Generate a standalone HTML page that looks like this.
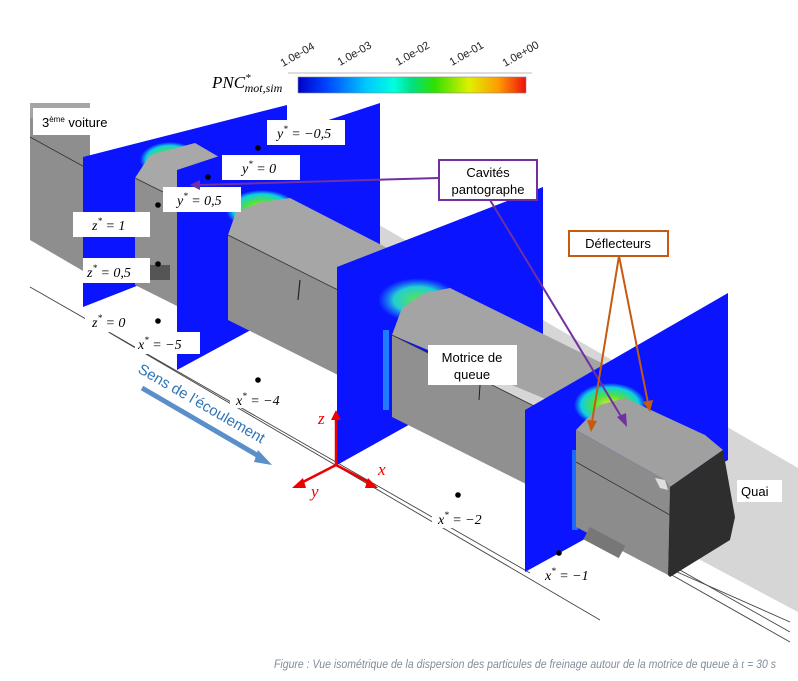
<!DOCTYPE html>
<html><head><meta charset="utf-8"><style>
html,body{margin:0;padding:0;background:#fff;}
svg{display:block;}
.lb{font-family:"Liberation Serif",serif;font-style:italic;font-size:14px;}
.sl{font-family:"Liberation Sans",sans-serif;font-size:13px;}
</style></head><body>
<svg width="798" height="681" viewBox="0 0 798 681" xmlns="http://www.w3.org/2000/svg">
<defs>
<linearGradient id="cb" x1="0" x2="1">
<stop offset="0" stop-color="#0000c8"/><stop offset="0.12" stop-color="#0040ff"/><stop offset="0.3" stop-color="#00c8ff"/><stop offset="0.42" stop-color="#00ffe0"/><stop offset="0.5" stop-color="#00e080"/><stop offset="0.6" stop-color="#30e000"/><stop offset="0.75" stop-color="#e0f000"/><stop offset="0.88" stop-color="#ff9a00"/><stop offset="1" stop-color="#ee1010"/>
</linearGradient>
<radialGradient id="pt"><stop offset="0" stop-color="#e8e830"/><stop offset="0.45" stop-color="#50e040"/><stop offset="0.8" stop-color="#10d0e0"/><stop offset="1" stop-color="#10d0e0" stop-opacity="0"/></radialGradient>
<radialGradient id="pt2"><stop offset="0" stop-color="#60e050"/><stop offset="0.6" stop-color="#20d0d0"/><stop offset="1" stop-color="#20a0ff" stop-opacity="0"/></radialGradient>
</defs>

<!-- colorbar -->
<rect x="298" y="77" width="228" height="16" fill="url(#cb)" stroke="#888" stroke-width="0.6"/>
<line x1="288" y1="73" x2="532" y2="73" stroke="#bbb" stroke-width="1"/>
<g font-family="Liberation Sans, sans-serif" font-size="11" fill="#222">
<text transform="translate(283,67) rotate(-30)">1.0e-04</text>
<text transform="translate(340,66) rotate(-30)">1.0e-03</text>
<text transform="translate(398,66) rotate(-30)">1.0e-02</text>
<text transform="translate(452,66) rotate(-30)">1.0e-01</text>
<text transform="translate(505,67) rotate(-30)">1.0e+00</text>
</g>
<text x="212" y="88" font-family="Liberation Serif, serif" font-style="italic" font-size="17">PNC<tspan font-size="11" dy="-7">*</tspan><tspan font-size="12" dy="11" dx="-6">mot,sim</tspan></text>

<!-- quai -->
<polygon points="250,150 798,468 798,612 250,320" fill="#d6d6d6"/>

<!-- ground lines -->
<g stroke="#444" stroke-width="0.9" fill="none">
<line x1="30" y1="287" x2="530" y2="573"/>
<line x1="110" y1="333" x2="600" y2="620"/>
<line x1="600" y1="525" x2="790" y2="632"/>
<line x1="610" y1="540" x2="790" y2="642"/>
<line x1="650" y1="560" x2="790" y2="622"/>
</g>

<!-- piece A -->
<polygon points="30,103 90,103 90,275 30,240" fill="#8e8e8e"/>
<polygon points="30,103 90,103 90,125 30,118" fill="#a5a5a5"/>
<line x1="30" y1="137" x2="90" y2="170" stroke="#333" stroke-width="0.8"/>

<!-- plane 1 -->
<polygon points="83,157 287,105 287,227 83,307" fill="#0a14ff"/>
<ellipse cx="170" cy="160" rx="30" ry="18" fill="url(#pt)"/>
<!-- piece B -->
<polygon points="135,178 150,155 195,143 250,175 177,199" fill="#a8a8a8"/>
<polygon points="135,178 177,199 177,306 135,285" fill="#8f8f8f"/>
<line x1="135" y1="178" x2="177" y2="199" stroke="#333" stroke-width="0.8"/>
<rect x="150" y="265" width="20" height="15" fill="#555"/>

<!-- plane 2 -->
<polygon points="177,170 380,103 380,260 177,370" fill="#0a14ff"/>
<ellipse cx="262" cy="210" rx="36" ry="20" fill="url(#pt)"/>
<!-- piece C -->
<polygon points="228,235 236,212 262,202 290,198 440,275 378,310" fill="#a6a6a6"/>
<polygon points="228,235 378,310 378,395 228,320" fill="#8f8f8f"/>
<line x1="228" y1="235" x2="378" y2="310" stroke="#333" stroke-width="0.8"/>
<line x1="300" y1="280" x2="298" y2="300" stroke="#222" stroke-width="1.2"/>

<!-- plane 3 -->
<polygon points="337,267 543,187 543,350 337,465" fill="#0a14ff"/>
<ellipse cx="418" cy="300" rx="40" ry="22" fill="url(#pt2)"/>
<rect x="383" y="330" width="6" height="80" fill="#30c0ff" opacity="0.6"/>
<!-- piece D -->
<polygon points="392,335 402,308 425,293 450,288 620,372 560,405" fill="#a4a4a4"/>
<polygon points="392,335 560,419 560,501 392,417" fill="#909090"/>
<line x1="392" y1="335" x2="560" y2="419" stroke="#333" stroke-width="0.8"/>
<line x1="480" y1="385" x2="479" y2="400" stroke="#222" stroke-width="1"/>

<!-- plane 4 -->
<polygon points="525,410 728,293 728,460 525,572" fill="#0a14ff"/>
<ellipse cx="610" cy="405" rx="36" ry="22" fill="url(#pt)"/>
<rect x="572" y="450" width="6" height="80" fill="#30c0ff" opacity="0.5"/>
<!-- nose -->
<polygon points="576,430 600,405 625,398 705,435 723,450 670,487 665,480" fill="#a0a0a0"/>
<polygon points="576,430 665,480 670,487 668,575 576,527" fill="#8c8c8c"/>
<polygon points="670,487 723,450 735,517 730,540 670,577 668,575" fill="#2e2e2e"/>
<line x1="576" y1="462" x2="670" y2="515" stroke="#333" stroke-width="0.8"/>
<rect x="590" y="527" width="40" height="14" fill="#777" transform="rotate(28 590 527)"/>
<polygon points="655,478 665,480 668,490 660,488" fill="#ddd"/>

<!-- axes -->
<g stroke="#e00" stroke-width="2.5" fill="#e00">
<line x1="336" y1="465" x2="336" y2="418"/><polygon points="331,420 341,420 336,410" stroke="none"/>
<line x1="336" y1="465" x2="372" y2="484"/><polygon points="368,478 378,488 365,488" stroke="none"/>
<line x1="336" y1="465" x2="299" y2="484"/><polygon points="303,478 292,488 306,488" stroke="none"/>
</g>
<g font-family="Liberation Serif, serif" font-style="italic" font-size="17" fill="#e00">
<text x="318" y="424">z</text><text x="378" y="475">x</text><text x="311" y="497">y</text>
</g>

<!-- flow arrow -->
<line x1="142" y1="388" x2="262" y2="458" stroke="#5b8fc9" stroke-width="5"/>
<polygon points="258,450 272,465 254,462" fill="#5b8fc9"/>
<text transform="translate(137,372) rotate(30)" font-family="Liberation Sans, sans-serif" font-size="15" fill="#2e75b6">Sens de l’écoulement</text>

<!-- dots -->
<g fill="#000">
<circle cx="258" cy="148" r="2.8"/><circle cx="208" cy="177" r="2.8"/><circle cx="158" cy="205" r="2.8"/>
<circle cx="158" cy="264" r="2.8"/><circle cx="158" cy="321" r="2.8"/><circle cx="258" cy="380" r="2.8"/>
<circle cx="458" cy="495" r="2.8"/><circle cx="559" cy="553" r="2.8"/>
</g>

<!-- labels -->
<g fill="#fff">
<rect x="267" y="120" width="78" height="25"/><rect x="222" y="155" width="78" height="25"/>
<rect x="163" y="187" width="78" height="25"/><rect x="73" y="212" width="77" height="25"/>
<rect x="83" y="258" width="67" height="25"/><rect x="85" y="310" width="50" height="22"/>
<rect x="135" y="332" width="65" height="22"/><rect x="230" y="390" width="60" height="18"/>
<rect x="432" y="508" width="60" height="20"/><rect x="540" y="564" width="60" height="20"/>
<rect x="33" y="108" width="89" height="27"/>
<rect x="428" y="345" width="89" height="40"/><rect x="737" y="480" width="45" height="22"/>
</g>
<g class="lb">
<text x="277" y="138">y<tspan font-size="9" dy="-6">*</tspan><tspan dy="6"> = −0,5</tspan></text>
<text x="242" y="173">y<tspan font-size="9" dy="-6">*</tspan><tspan dy="6"> = 0</tspan></text>
<text x="177" y="205">y<tspan font-size="9" dy="-6">*</tspan><tspan dy="6"> = 0,5</tspan></text>
<text x="92" y="230">z<tspan font-size="9" dy="-6">*</tspan><tspan dy="6"> = 1</tspan></text>
<text x="87" y="277">z<tspan font-size="9" dy="-6">*</tspan><tspan dy="6"> = 0,5</tspan></text>
<text x="92" y="327">z<tspan font-size="9" dy="-6">*</tspan><tspan dy="6"> = 0</tspan></text>
<text x="138" y="349">x<tspan font-size="9" dy="-6">*</tspan><tspan dy="6"> = −5</tspan></text>
<text x="236" y="405">x<tspan font-size="9" dy="-6">*</tspan><tspan dy="6"> = −4</tspan></text>
<text x="438" y="524">x<tspan font-size="9" dy="-6">*</tspan><tspan dy="6"> = −2</tspan></text>
<text x="545" y="580">x<tspan font-size="9" dy="-6">*</tspan><tspan dy="6"> = −1</tspan></text>
</g>
<text x="42" y="127" class="sl">3<tspan font-size="8" dy="-5">ème</tspan><tspan dy="5"> voiture</tspan></text>
<text x="472" y="362" class="sl" text-anchor="middle">Motrice de</text>
<text x="472" y="379" class="sl" text-anchor="middle">queue</text>
<text x="741" y="496" class="sl">Quai</text>

<!-- callouts -->
<g stroke="#7030a0" stroke-width="2" fill="none">
<line x1="439" y1="178" x2="198" y2="185"/>
<line x1="490" y1="200" x2="622" y2="418"/>
</g>
<polygon points="190,185 200,180 200,190" fill="#7030a0"/>
<polygon points="627,427 617,417 626,413" fill="#7030a0"/>
<rect x="439" y="160" width="98" height="40" fill="#fff" stroke="#7030a0" stroke-width="2"/>
<text x="488" y="177" class="sl" text-anchor="middle">Cavités</text>
<text x="488" y="194" class="sl" text-anchor="middle">pantographe</text>

<g stroke="#c55a11" stroke-width="2" fill="none">
<line x1="619" y1="256" x2="592" y2="422"/>
<line x1="619" y1="256" x2="648" y2="403"/>
</g>
<polygon points="591,432 587,420 597,421" fill="#c55a11"/>
<polygon points="650,412 643,402 653,400" fill="#c55a11"/>
<rect x="569" y="231" width="99" height="25" fill="#fff" stroke="#c55a11" stroke-width="2"/>
<text x="618" y="248" class="sl" text-anchor="middle">Déflecteurs</text>

<!-- caption -->
<text x="274" y="668" font-family="Liberation Sans, sans-serif" font-style="italic" font-size="11.5" fill="#7f8c9a" textLength="502" lengthAdjust="spacingAndGlyphs">Figure : Vue isométrique de la dispersion des particules de freinage autour de la motrice de queue à <tspan font-family="Liberation Serif, serif">t</tspan> = 30 s</text>
</svg>
</body></html>
